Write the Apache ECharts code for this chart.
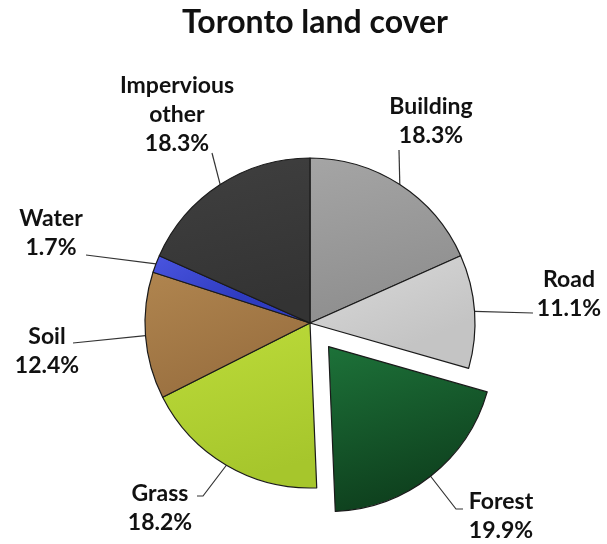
<!DOCTYPE html>
<html>
<head>
<meta charset="utf-8">
<script src="https://cdn.jsdelivr.net/npm/echarts@6/dist/echarts.min.js"></script>
<style>
  html, body { margin: 0; padding: 0; background: #ffffff; }
  #chart { width: 607px; height: 544px; }
</style>
</head>
<body>
<div id="chart"></div>
<script>
// Land cover classes, clockwise from 12 o'clock
const categories = ['Building', 'Road', 'Forest', 'Grass', 'Soil', 'Water', 'Impervious other'];
const labelNames = ['Building', 'Road', 'Forest', 'Grass', 'Soil', 'Water', 'Impervious\nother'];
const shares = [18.3, 11.1, 19.9, 18.2, 12.4, 1.7, 18.3];
const pulledOut = 'Forest';

// Slice fills (top colour, bottom colour)
const fills = [
  ['#a5a5a5', '#8e8e8e'],
  ['#dadada', '#c4c4c4'],
  ['#1d7239', '#0e3f1d'],
  ['#bddc3a', '#a6c62c'],
  ['#b0854f', '#9a7040'],
  ['#4a55e0', '#2f3cc0'],
  ['#404040', '#333333']
];

// Where each label sits and where its leader line bends
const labelSpots = [
  { x: 431, y: 121, bends: [[399, 150]] },
  { x: 569, y: 294, bends: [[533, 313]] },
  { x: 501, y: 516, bends: [[456, 509], [463, 509]] },
  { x: 160, y: 508, bends: [[203, 496], [197, 496]] },
  { x: 47, y: 351, bends: [[73, 343]] },
  { x: 51, y: 233, bends: [[86, 255]] },
  { x: 177, y: 115, bends: [[212, 153]] }
];

const font = 'Lato, "DejaVu Sans", sans-serif';
const center = [310, 323];
const radius = 165;
const pullDistance = 30;

// Direction of the pulled-out slice: middle of its arc, clockwise from the top
const total = shares.reduce((a, b) => a + b, 0);
const pullIndex = categories.indexOf(pulledOut);
const before = shares.slice(0, pullIndex).reduce((a, b) => a + b, 0);
const midAngle = (before + shares[pullIndex] / 2) / total * 2 * Math.PI;
const pullDx = Math.sin(midAngle) * pullDistance;
const pullDy = -Math.cos(midAngle) * pullDistance;

function fillOf(i) {
  return {
    type: 'linear', x: 0, y: 0, x2: 0.3, y2: 1,
    colorStops: [
      { offset: 0, color: fills[i][0] },
      { offset: 1, color: fills[i][1] }
    ]
  };
}

const hidden = { color: 'rgba(0,0,0,0)', borderWidth: 0 };

// Main ring: every slice except the pulled-out one is painted here; all labels live here
const mainData = categories.map((c, i) => ({
  name: c,
  value: shares[i],
  itemStyle: i === pullIndex ? hidden : { color: fillOf(i) }
}));

// Pulled-out slice: same arcs, drawn from a shifted centre, only one slice visible
const pulledData = categories.map((c, i) => ({
  name: c,
  value: shares[i],
  itemStyle: i === pullIndex ? { color: fillOf(i) } : hidden
}));

const chart = echarts.init(document.getElementById('chart'), null, { renderer: 'canvas' });

chart.setOption({
  animation: false,
  backgroundColor: '#ffffff',
  title: {
    text: 'Toronto land cover',
    left: 177,
    top: 2,
    textStyle: { fontFamily: font, fontWeight: 'bold', fontSize: 32, color: '#111' }
  },
  series: [{
    type: 'pie',
    center: center,
    radius: radius,
    startAngle: 90,
    clockwise: true,
    avoidLabelOverlap: false,
    silent: true,
    data: mainData,
    itemStyle: { borderColor: '#1a1a1a', borderWidth: 1.2 },
    label: {
      show: true,
      position: 'outside',
      formatter: p => labelNames[p.dataIndex] + '\n' + p.value.toFixed(1) + '%',
      fontFamily: font,
      fontWeight: 'bold',
      fontSize: 23,
      lineHeight: 29,
      color: '#111',
      align: 'center'
    },
    labelLine: {
      show: true,
      smooth: false,
      lineStyle: { color: '#333', width: 1.2 }
    },
    labelLayout: function (params) {
      const i = params.dataIndex;
      const spot = labelSpots[i];
      let start = params.labelLinePoints ? params.labelLinePoints[0].slice() : spot.bends[0];
      if (i === pullIndex) {
        start = [start[0] + pullDx, start[1] + pullDy];
      }
      return {
        x: spot.x,
        y: spot.y,
        align: 'center',
        verticalAlign: 'middle',
        labelLinePoints: [start].concat(spot.bends)
      };
    }
  }, {
    type: 'pie',
    center: [center[0] + pullDx, center[1] + pullDy],
    radius: radius,
    startAngle: 90,
    clockwise: true,
    silent: true,
    data: pulledData,
    itemStyle: { borderColor: '#1a1a1a', borderWidth: 1.2 },
    label: { show: false },
    labelLine: { show: false }
  }]
});
</script>
</body>
</html>
